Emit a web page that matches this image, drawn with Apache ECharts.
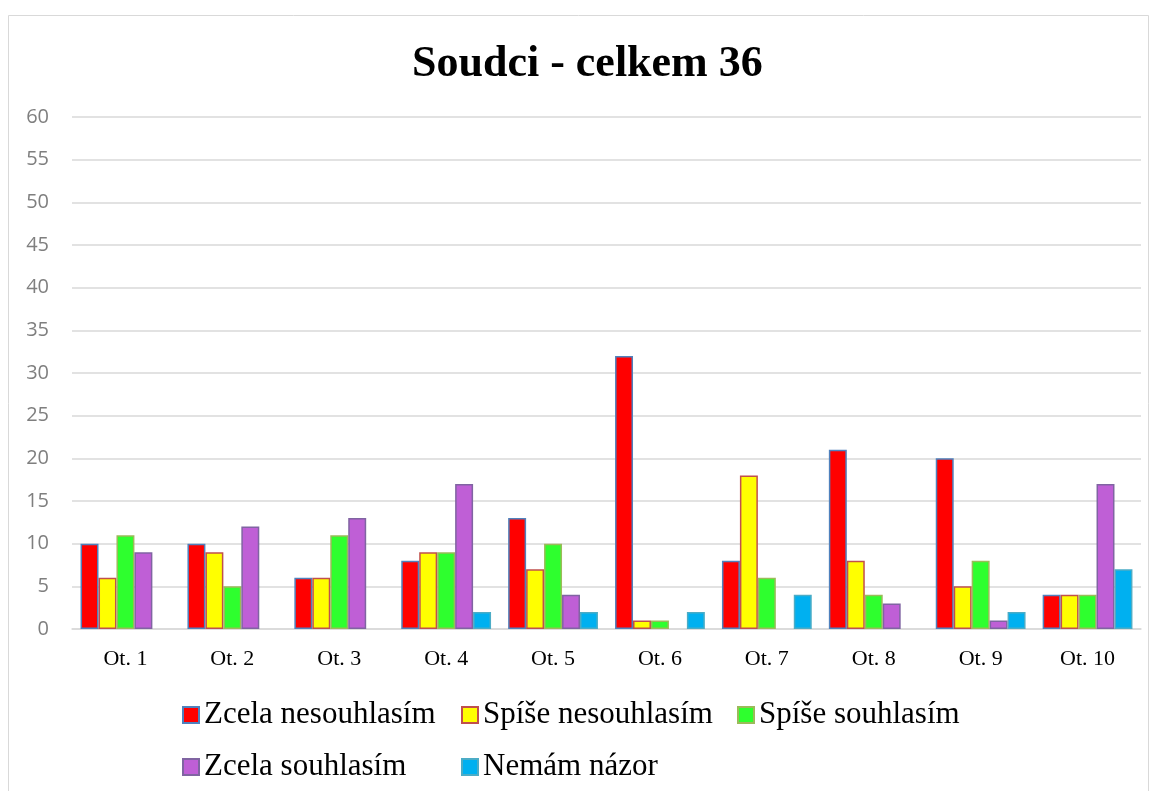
<!DOCTYPE html>
<html>
<head>
<meta charset="utf-8">
<script src="https://cdn.jsdelivr.net/npm/echarts@6/dist/echarts.min.js"></script>
<style>
  html, body { margin: 0; padding: 0; background: #fff; }
  #chart { width: 1157px; height: 791px; }
</style>
</head>
<body>
<div id="chart"></div>
<script>
const categories = ['Ot. 1', 'Ot. 2', 'Ot. 3', 'Ot. 4', 'Ot. 5', 'Ot. 6', 'Ot. 7', 'Ot. 8', 'Ot. 9', 'Ot. 10']
const zcelaNesouhlasim = [10, 10, 6, 8, 13, 32, 8, 21, 20, 4]
const spiseNesouhlasim = [6, 9, 6, 9, 7, 1, 18, 8, 5, 4]
const spiseSouhlasim = [11, 5, 11, 9, 10, 1, 6, 4, 8, 4]
const zcelaSouhlasim = [9, 12, 13, 17, 4, 0, 0, 3, 1, 17]
const nemamNazor = [0, 0, 0, 2, 2, 2, 4, 0, 2, 7]
const yTicks = [0, 5, 10, 15, 20, 25, 30, 35, 40, 45, 50, 55, 60]

const seriesDefs = [
  { name: 'Zcela nesouhlasím', data: zcelaNesouhlasim, color: '#ff0000', border: '#4f81bd' },
  { name: 'Spíše nesouhlasím', data: spiseNesouhlasim, color: '#ffff00', border: '#c0504d' },
  { name: 'Spíše souhlasím', data: spiseSouhlasim, color: '#2eff2e', border: '#9bbb59' },
  { name: 'Zcela souhlasím', data: zcelaSouhlasim, color: '#bf5fd6', border: '#8064a2' },
  { name: 'Nemám názor', data: nemamNazor, color: '#00b0f0', border: '#4bacc6' }
]

// legend laid out in columns, like the Excel original
const legendColumn = (left, names) => ({
  orient: 'vertical',
  left: left,
  top: 699,
  padding: 0,
  itemWidth: 16,
  itemHeight: 16,
  itemGap: 20,
  icon: 'rect',
  data: names,
  textStyle: {
    fontFamily: 'Liberation Serif',
    fontSize: 31,
    lineHeight: 32,
    color: '#000'
  }
})

const myChart = echarts.init(document.getElementById('chart'))
myChart.setOption({
  backgroundColor: '#fff',
  animation: false,
  title: {
    text: 'Soudci - celkem 36',
    left: 412,
    top: 43,
    padding: 0,
    textStyle: { fontFamily: 'Liberation Serif', fontWeight: 'bold', fontSize: 44, color: '#000' }
  },
  graphic: [{
    type: 'rect',
    shape: { x: 8.5, y: 15.5, width: 1140, height: 800 },
    style: { fill: 'none', stroke: '#d9d9d9', lineWidth: 1 },
    silent: true
  }],
  legend: [
    legendColumn(182, [seriesDefs[0].name, seriesDefs[3].name]),
    legendColumn(461, [seriesDefs[1].name, seriesDefs[4].name]),
    legendColumn(737, [seriesDefs[2].name])
  ],
  grid: { left: 72, right: 16, top: 117, bottom: 162 },
  xAxis: {
    type: 'category',
    data: categories,
    axisLine: { lineStyle: { color: '#d9d9d9', width: 1.5 } },
    axisTick: { show: false },
    axisLabel: { fontFamily: 'Liberation Serif', fontSize: 22, color: '#000', margin: 19 }
  },
  yAxis: {
    type: 'value',
    min: yTicks[0],
    max: yTicks[yTicks.length - 1],
    interval: 5,
    axisLine: { show: false },
    axisTick: { show: false },
    splitLine: { lineStyle: { color: '#d9d9d9', width: 1.5 } },
    axisLabel: { fontFamily: 'Open Sans', fontSize: 20, color: '#7f7f7f', margin: 23 }
  },
  series: seriesDefs.map(s => ({
    name: s.name,
    type: 'bar',
    data: s.data.map(v => (v === 0 ? null : v)),
    barGap: '0%',
    barCategoryGap: '16%',
    itemStyle: { color: s.color, borderColor: s.border, borderWidth: 1.5 }
  }))
})
</script>
</body>
</html>
